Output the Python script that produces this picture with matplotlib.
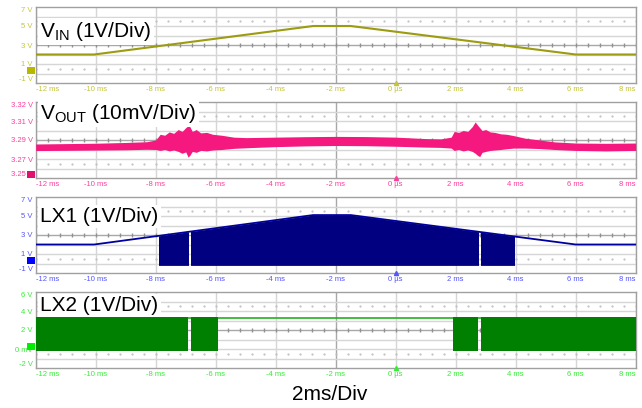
import numpy as np
import matplotlib.pyplot as plt
from matplotlib.patches import Rectangle

plt.rcParams['font.family'] = ['Liberation Sans', 'DejaVu Sans']
plt.rcParams['mathtext.fontset'] = 'custom'
plt.rcParams['mathtext.rm'] = 'Liberation Sans'

# time axis (ms)
x_ticks = [-12, -10, -8, -6, -4, -2, 0, 2, 4, 6, 8]
x_labels = ['-12 ms', '-10 ms', '-8 ms', '-6 ms', '-4 ms', '-2 ms', '0 µs', '2 ms', '4 ms', '6 ms', '8 ms']

# VIN trace
vin_t = [-12, -10.05, -2.75, -1.5, 6.0, 8]
vin_v = [2.0, 2.0, 5.0, 5.0, 2.0, 2.0]

# VOUT trace, read as noise envelope (upper / lower edge)
vout_t = [-12.0, -11.0, -10.0, -9.0, -8.3, -8.0, -7.85, -7.7, -7.55, -7.4, -7.25, -7.12, -7.0,
          -6.92, -6.86, -6.78, -6.65, -6.5, -6.3, -6.1, -5.8, -5.4, -5.0, -4.0, -3.0, -2.0,
          -1.0, 0.0, 1.0, 1.5, 1.85, 1.95, 2.1, 2.25, 2.4, 2.55, 2.65, 2.72, 2.8, 2.88, 3.0,
          3.15, 3.3, 3.5, 3.7, 3.95, 4.3, 4.8, 5.3, 6.0, 7.0, 8.0]
vout_hi = [3.2858, 3.2862, 3.2866, 3.2874, 3.2882, 3.2900, 3.2960, 3.2950, 3.2985, 3.2970,
           3.3010, 3.2990, 3.3030, 3.3050, 3.3040, 3.2990, 3.3010, 3.2975, 3.2980, 3.2960,
           3.2950, 3.2930, 3.2925, 3.2930, 3.2935, 3.2938, 3.2936, 3.2930, 3.2915, 3.2912,
           3.2930, 3.2990, 3.2980, 3.3000, 3.2990, 3.3040, 3.3090, 3.3060, 3.3030, 3.3000,
           3.3010, 3.2985, 3.2980, 3.2965, 3.2960, 3.2945, 3.2920, 3.2900, 3.2880, 3.2868,
           3.2865, 3.2868]
vout_lo = [3.2789, 3.2791, 3.2794, 3.2797, 3.2802, 3.2800, 3.2790, 3.2800, 3.2785, 3.2795,
           3.2780, 3.2760, 3.2775, 3.2720, 3.2740, 3.2780, 3.2770, 3.2790, 3.2785, 3.2795,
           3.2800, 3.2812, 3.2818, 3.2830, 3.2838, 3.2842, 3.2840, 3.2834, 3.2825, 3.2822,
           3.2815, 3.2790, 3.2800, 3.2785, 3.2795, 3.2780, 3.2760, 3.2740, 3.2725, 3.2770,
           3.2780, 3.2790, 3.2795, 3.2800, 3.2808, 3.2815, 3.2815, 3.2810, 3.2800, 3.2790,
           3.2785, 3.2790]

# LX1 trace: envelope line plus switching bursts
lx1_t = [-12, -10.05, -2.75, -1.5, 6.0, 8]
lx1_v = [2.0, 2.0, 5.1, 5.1, 2.0, 2.0]
lx1_start = [-7.9, -6.84, 2.85]
lx1_end = [-6.93, 2.75, 3.93]
lx1_low = -0.2

# LX2 trace
lx2_t = [-12, 8]
lx2_v = [3.3, 3.3]
lx2_start = [-12, -6.84, 1.92, 2.84]
lx2_end = [-6.94, -5.93, 2.73, 8]
lx2_high = 3.4
lx2_low = -0.2

W, H = 642, 408
fig = plt.figure(figsize=(W / 100, H / 100), dpi=100)


def make_axes(top_px):
    return fig.add_axes([35.7 / W, 1 - (top_px + 76) / H, 600 / W, 76 / H])


def scope_grid(ax, ylo, div):
    for x in x_ticks:
        ax.axvline(x, color='#a8a8a8' if x == -2 else '#d6d6d6', lw=1, zorder=0)
    for k in range(1, 8):
        ax.axhline(ylo + k * div, color='#a8a8a8' if k == 4 else '#d6d6d6', lw=1, zorder=0)
    minor = np.arange(-12, 8.01, 0.4)
    ax.plot(minor, np.full_like(minor, ylo + 4 * div), '|', color='#909090', ms=3, zorder=0)
    for k in (1.5, 6.5):
        ax.plot(minor, np.full_like(minor, ylo + k * div), '.', color='#c0c0c0', ms=1.2, zorder=0)


def style(ax, ylo, div, yticks, ylabels, color):
    ax.set_xlim(-12, 8)
    ax.set_ylim(ylo, ylo + 8 * div)
    scope_grid(ax, ylo, div)
    for s in ax.spines.values():
        s.set_color('#a0a0a0')
        s.set_linewidth(1)
    ax.set_xticks(x_ticks, x_labels)
    ax.set_yticks(yticks, ylabels)
    ax.tick_params(length=0, labelsize=5.5, colors=color, pad=2)
    xl = ax.get_xticklabels()
    xl[0].set_ha('left')
    xl[-1].set_ha('right')
    yl = ax.get_yticklabels()
    yl[0].set_va('bottom')
    yl[-1].set_va('top')
    ax.plot([0], [ylo], marker='^', color=color, ms=3, clip_on=False, zorder=5)


def title(ax, text, ybase):
    ax.text(0.008, ybase, text, transform=ax.transAxes, fontsize=15, va='baseline',
            ha='left', zorder=6,
            bbox=dict(facecolor='white', edgecolor='none', pad=1.5))


def marker(ax, y, fc):
    # small channel ground marker sitting just left of the plot area
    tr = ax.get_yaxis_transform()
    h = (ax.get_ylim()[1] - ax.get_ylim()[0]) * 7 / 76
    ax.add_patch(Rectangle((-0.0145, y - h / 2), 0.0135, h, transform=tr,
                           facecolor=fc, edgecolor='none', clip_on=False, zorder=7))


# panel 1: VIN
ax1 = make_axes(7)
style(ax1, -1, 1, [-1, 1, 3, 5, 7], ['-1 V', '1 V', '3 V', '5 V', '7 V'], '#c4c43a')
ax1.plot(vin_t, vin_v, color='#9c9c10', lw=1.5, zorder=3)
title(ax1, r'V$_{\mathrm{IN}}$ (1V/Div)', 0.61)
marker(ax1, 0.3, '#b8b800')

# panel 2: VOUT
ax2 = make_axes(102)
style(ax2, 3.25, 0.01, [3.25, 3.27, 3.29, 3.31, 3.33],
      ['3.25 V', '3.27 V', '3.29 V', '3.31 V', '3.32 V'], '#ff3d9e')
ax2.fill_between(vout_t, vout_lo, vout_hi, color='#f5187f', lw=0, zorder=3)
title(ax2, r'V$_{\mathrm{OUT}}$ (10mV/Div)', 0.78)
marker(ax2, 3.2537, '#e0106e')

# panel 3: LX1
ax3 = make_axes(197)
style(ax3, -1, 1, [-1, 1, 3, 5, 7], ['-1 V', '1 V', '3 V', '5 V', '7 V'], '#5555ff')
ax3.plot(lx1_t, lx1_v, color='#0000a0', lw=1.3, zorder=3)
for a, b in zip(lx1_start, lx1_end):
    poly = ax3.fill_between(lx1_t, lx1_low, lx1_v, color='#000080', lw=0, zorder=4)
    poly.set_clip_path(Rectangle((a, -1), b - a, 8, transform=ax3.transData))
title(ax3, 'LX1 (1V/Div)', 0.675)
marker(ax3, 0.3, '#0000ff')

# panel 4: LX2
ax4 = make_axes(292)
style(ax4, -2, 1, [-2, 0, 2, 4, 6], ['-2 V', '0 mV', '2 V', '4 V', '6 V'], '#33ee33')
ax4.plot(lx2_t, lx2_v, color='#22b022', lw=1.2, zorder=3)
for a, b in zip(lx2_start, lx2_end):
    ax4.fill_between([a, b], lx2_low, lx2_high, color='#008000', lw=0, zorder=4)
title(ax4, 'LX2 (1V/Div)', 0.75)
marker(ax4, 0.3, '#00ee00')

fig.text(0.514, 1 - 394 / H, '2ms/Div', ha='center', va='center', fontsize=15)

fig.savefig('out.png', dpi=100)
